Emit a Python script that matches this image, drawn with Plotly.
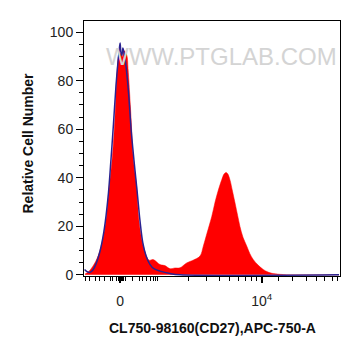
import plotly.graph_objects as go

# ---- data (display channel units on a biexponential-like scale, 0-1000) ----
red_x = [4, 20, 46, 65, 85, 98, 111, 121, 130, 137, 146, 151, 157, 167, 172, 182, 193, 206, 215,
         234, 254, 270, 297, 316, 336, 355, 375, 401, 426, 453, 466, 480, 499, 512, 525, 538,
         547, 555, 562, 570, 580, 590, 600, 609, 621, 636, 648, 661, 680, 700, 719, 739, 778,
         844, 996]
red_y = [0.3, 1.5, 5.6, 11, 22, 35.8, 49, 65, 85, 90.6, 91.3, 89.8, 92.3, 90.6, 85, 68, 47.4,
         35.8, 22, 11, 6, 6.3, 4.2, 3.8, 2.5, 2.8, 2.9, 4.9, 6, 7.7, 11.8, 17, 24, 30, 35, 39.2,
         41.5, 42.2, 41.5, 39.2, 34.5, 29.6, 24.5, 20, 15.5, 11.8, 8.7, 6.3, 4, 2.2, 1.1, 0.5,
         0.1, 0, 0]

blue_x = [2, 12, 23, 35, 47, 62, 78, 94, 105, 115, 125, 133, 137, 141, 145, 148, 152, 158, 164,
          174, 184, 195, 207, 219, 230, 242, 258, 273, 297, 336, 375, 996]
blue_y = [2.2, 1.3, 1.0, 2.0, 4.5, 9.5, 18, 32, 47, 62, 78, 88, 92, 95.5, 91, 90.5, 93.5, 90.5,
          86, 75, 60, 47.4, 35, 22, 13, 8, 4.2, 2.5, 1.5, 0.5, 0, 0]

x_major_vals = [141, 694]
x_major_text = ["0", "10<sup>4</sup>"]
x_minor_vals = [4, 23, 43, 62, 82, 102, 113, 127, 133, 139, 145, 151, 156, 164, 191, 215, 230,
                246, 258, 270, 281, 288, 410, 480, 531, 570, 604, 631, 655, 675, 758, 816, 871,
                910, 941, 969, 992]
y_ticks = [0, 20, 40, 60, 80, 100]

FONT = "Liberation Sans, Arial, sans-serif"

fig = go.Figure()
fig.add_trace(go.Scatter(x=red_x, y=red_y, mode="lines", fill="tozeroy",
                         fillcolor="#ff0000", line=dict(color="#ff0000", width=0.5),
                         line_shape="spline", hoverinfo="skip", showlegend=False))
fig.add_trace(go.Scatter(x=blue_x, y=blue_y, mode="lines",
                         line=dict(color="#2a2290", width=1.5), line_shape="spline",
                         hoverinfo="skip", showlegend=False))

# page body has an 8px default margin on the left/top, so the figure is 8px smaller
fig.update_layout(
    width=353, height=348,
    margin=dict(l=76, r=21, t=13, b=80),
    paper_bgcolor="white", plot_bgcolor="white",
    font=dict(family=FONT, size=14, color="#222"),
    xaxis=dict(range=[0, 1000], showgrid=False, zeroline=False,
               showline=True, linecolor="black", linewidth=1, mirror=True,
               tickmode="array", tickvals=x_major_vals, ticktext=x_major_text,
               ticks="outside", ticklen=6, tickwidth=1.5, tickcolor="black",
               ticklabelstandoff=6,
               tickfont=dict(size=14, color="#222"),
               minor=dict(tickmode="array", tickvals=x_minor_vals, ticks="outside",
                          ticklen=4, tickwidth=1, tickcolor="black", showgrid=False)),
    yaxis=dict(range=[-0.5, 104.6], showgrid=False, zeroline=False,
               showline=True, linecolor="black", linewidth=1, mirror=True,
               tickmode="array", tickvals=y_ticks,
               ticks="outside", ticklen=7, tickwidth=1, tickcolor="black",
               tickfont=dict(size=14, color="#222"),
               minor=dict(dtick=5, tick0=0, ticks="outside", ticklen=4,
                          tickwidth=1, tickcolor="black", showgrid=False)),
)

fig.add_annotation(text="WWW.PTGLAB.COM", xref="paper", yref="paper",
                   x=0.537, y=0.859, xanchor="center", yanchor="middle",
                   showarrow=False, font=dict(family=FONT, size=24, color="#d4d4d4"))

fig.add_annotation(text="<b>CL750-98160(CD27),APC-750-A</b>", xref="paper", yref="paper",
                   x=0.5, y=0, xanchor="center", yanchor="middle", yshift=-51.5,
                   showarrow=False, font=dict(family=FONT, size=14, color="#111"))
fig.add_annotation(text="<b>Relative Cell Number</b>", xref="paper", yref="paper",
                   x=0, y=0.5, xanchor="center", yanchor="middle", xshift=-57, yshift=5,
                   textangle=-90, showarrow=False, font=dict(family=FONT, size=14, color="#111"))

fig.write_html("out.html")
